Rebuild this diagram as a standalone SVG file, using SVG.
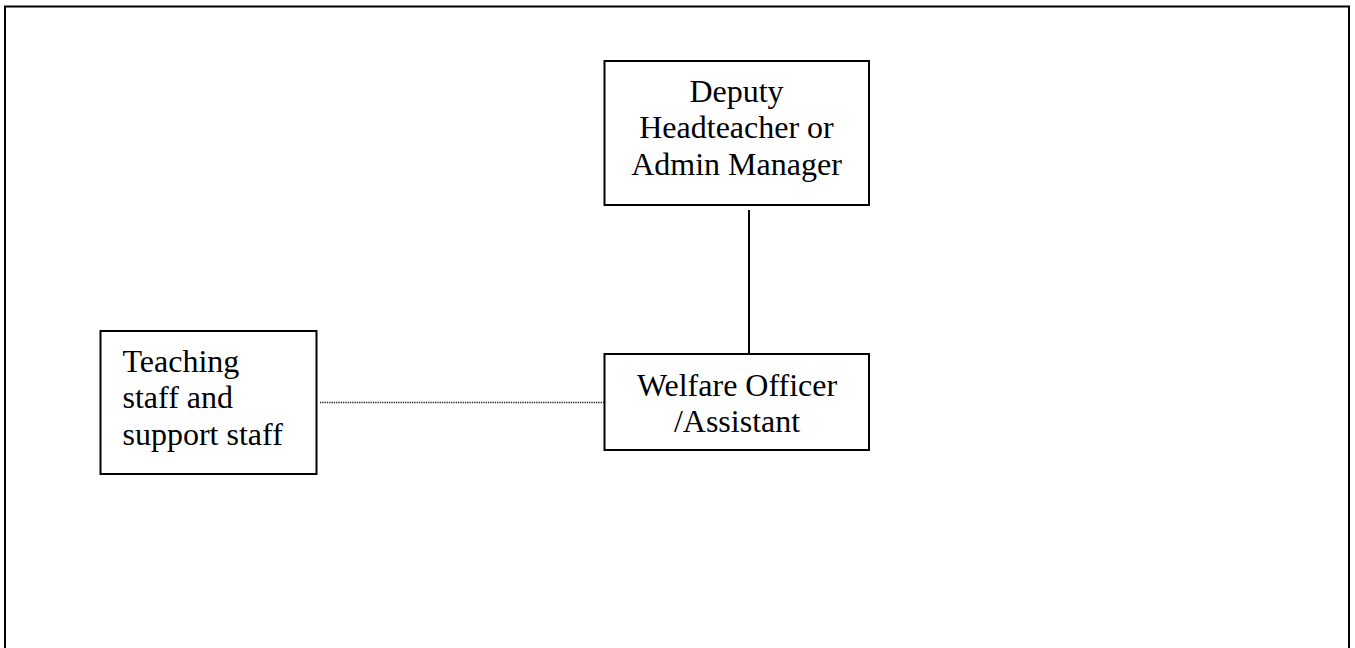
<svg xmlns="http://www.w3.org/2000/svg" width="1355" height="648" viewBox="0 0 1355 648">
<style>
.box{fill:#fff;stroke:#000;stroke-width:2}
.t{font-family:"Liberation Serif","Times New Roman",serif;font-size:32px;fill:#000}
.c{text-anchor:middle}
</style>
<rect x="0" y="0" width="1355" height="648" fill="#fff"/>
<rect id="frame" x="5" y="6.5" width="1344" height="700" fill="none" stroke="#000" stroke-width="2"/>
<g id="connectors">
<line x1="749" y1="210" x2="749" y2="354" stroke="#000" stroke-width="2"/>
<line x1="320" y1="402.5" x2="604" y2="402.5" stroke="#222" stroke-width="1.3" stroke-dasharray="1.3,1"/>
</g>
<g id="deputy">
<rect class="box" x="604.5" y="61" width="264.5" height="144"/>
<text class="t c" x="736.5" y="101.5">Deputy</text>
<text class="t c" x="736.5" y="138">Headteacher or</text>
<text class="t c" x="736.5" y="174.5">Admin Manager</text>
</g>
<g id="welfare">
<rect class="box" x="604.5" y="354" width="264.5" height="96"/>
<text class="t c" x="737" y="396">Welfare Officer</text>
<text class="t c" x="737" y="432">/Assistant</text>
</g>
<g id="teaching">
<rect class="box" x="100.5" y="331" width="216" height="143"/>
<text class="t" x="122.5" y="371.5">Teaching</text>
<text class="t" x="122.5" y="408">staff and</text>
<text class="t" x="122.5" y="444.5">support staff</text>
</g>
</svg>
